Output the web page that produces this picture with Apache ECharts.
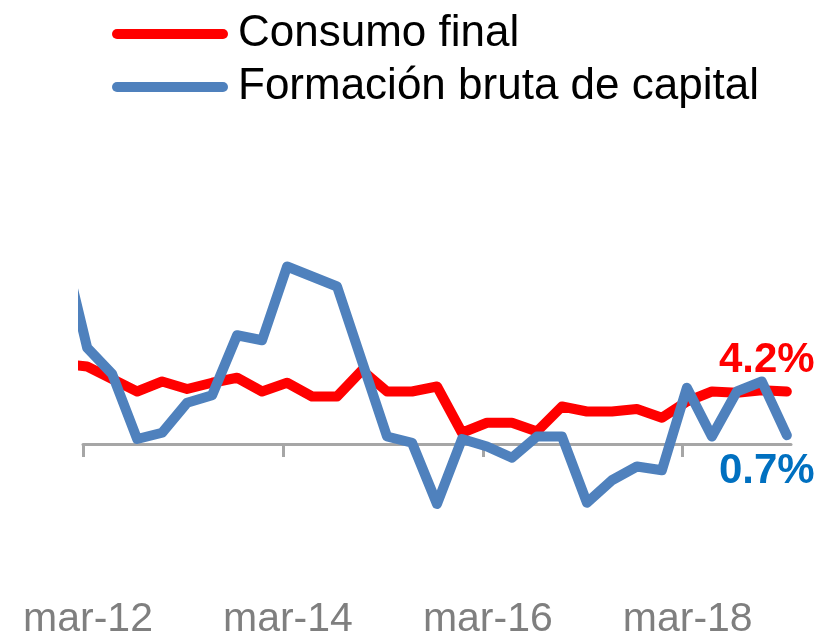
<!DOCTYPE html>
<html><head><meta charset="utf-8">
<script src="https://cdn.jsdelivr.net/npm/echarts@6/dist/echarts.min.js"></script>
<style>html,body{margin:0;padding:0;background:#fff}#c{width:821px;height:635px}</style>
</head><body><div id="c"></div>
<script>
// Quarterly periods (first one lies before the visible axis start and is clipped)
const quarters = ['dic-11',
  'mar-12','jun-12','sep-12','dic-12','mar-13','jun-13','sep-13','dic-13',
  'mar-14','jun-14','sep-14','dic-14','mar-15','jun-15','sep-15','dic-15',
  'mar-16','jun-16','sep-16','dic-16','mar-17','jun-17','sep-17','dic-17',
  'mar-18','jun-18','sep-18','dic-18','mar-19'];
const consumoFinal = [6.4,
  6.2, 5.2, 4.2, 5.0, 4.4, 4.9, 5.3, 4.2,
  4.9, 3.8, 3.8, 5.9, 4.2, 4.2, 4.6, 0.9,
  1.7, 1.7, 1.0, 3.0, 2.6, 2.6, 2.8, 2.1,
  3.4, 4.2, 4.1, 4.3, 4.2];
const formacionBruta = [16.0,
  7.7, 5.6, 0.4, 0.9, 3.3, 3.9, 8.7, 8.3,
  14.2, 13.4, 12.6, 6.6, 0.6, 0.1, -4.8, 0.4,
  -0.2, -1.1, 0.6, 0.6, -4.7, -2.9, -1.8, -2.1,
  4.5, 0.6, 4.2, 5.0, 0.7];
const tickLabels = ['mar-12', 'mar-14', 'mar-16', 'mar-18'];
const seriesNames = ['Consumo final', 'Formación bruta de capital'];

// months counted from start of mar-12; each quarter point sits mid-month
const monthPos = i => 3 * (i - 1) + 0.5;
const tickMonths = tickLabels.map((_, i) => i * 24);
const last = quarters.length - 1;

function buildData(vals, labelCfg) {
  return vals.map((v, i) => {
    const item = { value: [monthPos(i), v] };
    if (i === last) item.label = labelCfg;
    return item;
  });
}

const chart = echarts.init(document.getElementById('c'));
const FONT = 'Liberation Sans, Arial, sans-serif';
const capsule = 'path://M5,0 L111,0 A5,5 0 0 1 111,10 L5,10 A5,5 0 0 1 5,0 Z';

chart.setOption({
  animation: false,
  backgroundColor: '#ffffff',
  legend: {
    orient: 'vertical', left: 112, top: 12, padding: 0,
    itemWidth: 116, itemHeight: 10, itemGap: 9,
    textStyle: { fontFamily: FONT, fontSize: 44, lineHeight: 44, color: '#000', padding: [0, 0, 0, 5] },
    data: [{ name: seriesNames[0], icon: capsule }, { name: seriesNames[1], icon: capsule }]
  },
  grid: { left: 83, right: 30, top: 194, bottom: 66, containLabel: false, outerBoundsMode: 'none' },
  xAxis: [{
    type: 'value', min: 0, max: 85, position: 'top',
    axisLine: { onZero: true, lineStyle: { color: '#A6A6A6', width: 3 } },
    axisTick: { show: true, inside: true, length: 13, customValues: tickMonths, lineStyle: { color: '#A6A6A6', width: 3 } },
    axisLabel: { show: false },
    splitLine: { show: false }
  }, {
    type: 'value', min: 0, max: 85, position: 'bottom',
    axisLine: { show: false, onZero: false },
    axisTick: { show: false },
    splitLine: { show: false },
    axisLabel: {
      show: true, customValues: tickMonths, margin: 30,
      fontFamily: FONT, fontSize: 41, color: '#7F7F7F', padding: [0, 0, 0, 10],
      formatter: v => tickLabels[Math.round(v / 24)] || ''
    }
  }],
  yAxis: { type: 'value', min: -10, max: 20, show: false, splitLine: { show: false } },
  series: [{
    name: seriesNames[0], type: 'line', xAxisIndex: 0,
    showSymbol: true, symbol: 'circle', symbolSize: 0,
    itemStyle: { color: '#FF0000' },
    lineStyle: { color: '#FF0000', width: 10, cap: 'round', join: 'round' },
    label: { show: false },
    data: buildData(consumoFinal, {
      show: true, position: 'top', distance: 10, offset: [-20, 0],
      fontFamily: FONT, fontSize: 42, fontWeight: 'bold', color: '#FF0000',
      formatter: p => p.value[1].toFixed(1) + '%'
    }),
    z: 2
  }, {
    name: seriesNames[1], type: 'line', xAxisIndex: 0,
    showSymbol: true, symbol: 'circle', symbolSize: 0,
    itemStyle: { color: '#4F81BD' },
    lineStyle: { color: '#4F81BD', width: 10, cap: 'round', join: 'round' },
    label: { show: false },
    data: buildData(formacionBruta, {
      show: true, position: 'bottom', distance: 15, offset: [-20, 0],
      fontFamily: FONT, fontSize: 42, fontWeight: 'bold', color: '#0070C0',
      formatter: p => p.value[1].toFixed(1) + '%'
    }),
    z: 3
  }]
});
</script>
</body></html>
